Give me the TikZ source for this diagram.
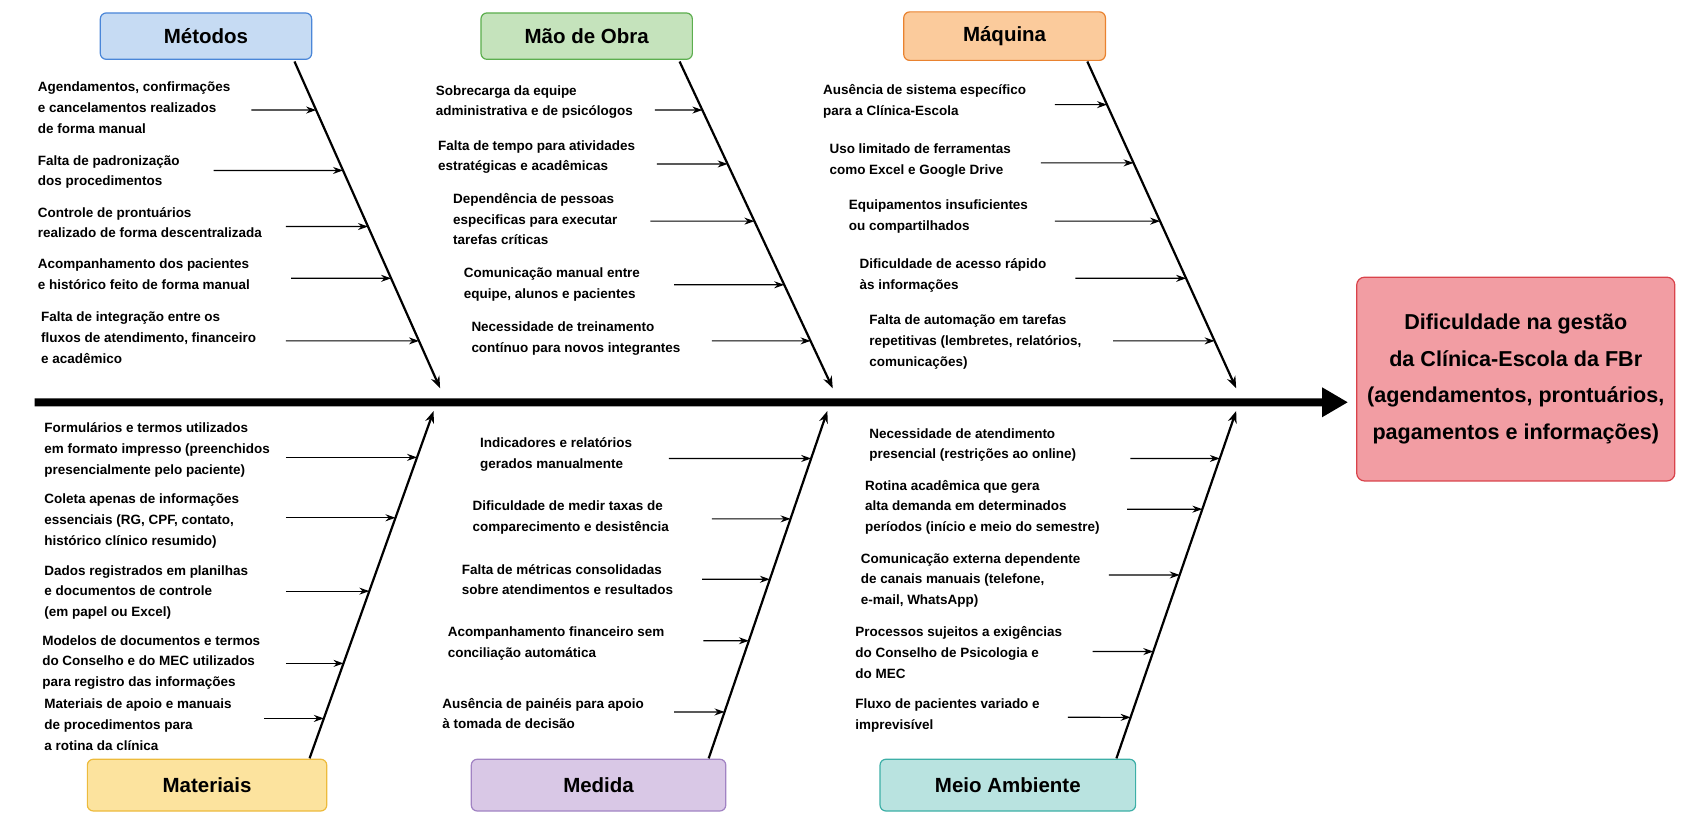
\documentclass[tikz,border=0pt]{standalone}
\usepackage{fontspec}
\setmainfont{Liberation Sans}
\usetikzlibrary{arrows.meta,calc}
\definecolor{bluF}{HTML}{C6DBF3}\definecolor{bluD}{HTML}{4A86D8}
\definecolor{grnF}{HTML}{C5E3BC}\definecolor{grnD}{HTML}{5CAE4E}
\definecolor{orgF}{HTML}{FBCB9C}\definecolor{orgD}{HTML}{E9822F}
\definecolor{yelF}{HTML}{FCE39E}\definecolor{yelD}{HTML}{EDBB3C}
\definecolor{purF}{HTML}{D9C8E6}\definecolor{purD}{HTML}{A183C3}
\definecolor{tealF}{HTML}{B9E3E0}\definecolor{tealD}{HTML}{3DAFA7}
\definecolor{redF}{HTML}{F29DA3}\definecolor{redD}{HTML}{D9434B}
\newcommand\itm[6]{\node[item] (#1) at (#2,#3-7) {#4};\coordinate (#1s) at (#5,#6);}
\newcommand\arr[2]{\draw[sub] (#1s) -- (intersection of #1s--{$(#1s)+(10,0)$} and #2);}
\begin{document}
\begin{tikzpicture}[x=1pt,y=-1pt,scale=1.0785,every node/.append style={transform shape},
 cat/.style={draw,rounded corners=6pt,line width=1.2pt,font=\fontsize{19}{22}\selectfont\bfseries},
 item/.style={anchor=north west,inner sep=0pt,align=left,font=\fontsize{12.5}{19.2}\selectfont\bfseries},
 bone/.style={line width=2.2pt},
 sub/.style={-{Stealth[length=10pt,width=7pt]},line width=1.2pt}]
\node[draw=redD,fill=redF,rounded corners=8pt,line width=1.2pt,minimum width=295pt,minimum height=189pt,align=center,font=\fontsize{20}{34}\selectfont\bfseries] (eff) at (1405.5,351.5) {Dificuldade na gestão\\da Clínica-Escola da FBr\\(agendamentos, prontuários,\\pagamentos e informações)};
\coordinate (s0) at (32,373);
\draw[line width=8pt,-{Triangle[length=26pt,width=28pt]}] (s0) -- (1250,373) coordinate (s1);
\node[cat,fill=bluF,draw=bluD,minimum width=196pt,minimum height=43pt] (met) at (191,33.5) {Métodos};
\node[cat,fill=grnF,draw=grnD,minimum width=196pt,minimum height=43pt] (mao) at (544,33.5) {Mão de Obra};
\node[cat,fill=orgF,draw=orgD,minimum width=187pt,minimum height=45pt] (maq) at (931.5,33.5) {Máquina};
\node[cat,fill=yelF,draw=yelD,minimum width=222pt,minimum height=48pt] (mat) at (192,728) {Materiais};
\node[cat,fill=purF,draw=purD,minimum width=236pt,minimum height=48pt] (med) at (555,728) {Medida};
\node[cat,fill=tealF,draw=tealD,minimum width=237pt,minimum height=48pt] (mei) at (934.5,728) {Meio Ambiente};
\coordinate (a1) at (273,57); \coordinate (a2) at (408,360);
\coordinate (b1) at (630,57); \coordinate (b2) at (772,360);
\coordinate (c1) at (1008,57); \coordinate (c2) at (1146,360);
\coordinate (d1) at (287,703); \coordinate (d2) at (402,381);
\coordinate (e1) at (657,703); \coordinate (e2) at (767,381);
\coordinate (f1) at (1035,703); \coordinate (f2) at (1146,381);
\foreach \p/\q in {a1/a2,b1/b2,c1/c2,d1/d2,e1/e2,f1/f2}{\draw[bone,-{Stealth[length=12pt,width=9pt]}] (\p) -- (\q);}
\itm{m1}{35}{83}{Agendamentos, confirmações\\e cancelamentos realizados\\de forma manual}{233}{102}
\itm{m2}{35}{151}{Falta de padronização\\dos procedimentos}{198}{158}
\itm{m3}{35}{199}{Controle de prontuários\\realizado de forma descentralizada}{265}{210}
\itm{m4}{35}{247}{Acompanhamento dos pacientes\\e histórico feito de forma manual}{270}{258}
\itm{m5}{38}{296}{Falta de integração entre os\\fluxos de atendimento, financeiro\\e acadêmico}{265}{316}
\itm{o1}{404}{86}{Sobrecarga da equipe\\administrativa e de psicólogos}{607}{102}
\itm{o2}{406}{137}{Falta de tempo para atividades\\estratégicas e acadêmicas}{609}{152}
\itm{o3}{420}{186}{Dependência de pessoas\\especificas para executar\\tarefas críticas}{603}{205}
\itm{o4}{430}{255}{Comunicação manual entre\\equipe, alunos e pacientes}{625}{264}
\itm{o5}{437}{305}{Necessidade de treinamento\\contínuo para novos integrantes}{660}{316}
\itm{q1}{763}{85}{Ausência de sistema específico\\para a Clínica-Escola}{978}{97}
\itm{q2}{769}{140}{Uso limitado de ferramentas\\ como Excel e Google Drive}{965}{151}
\itm{q3}{787}{192}{Equipamentos insuficientes\\ou compartilhados}{978}{205}
\itm{q4}{797}{247}{Dificuldade de acesso rápido\\às informações}{997}{258}
\itm{q5}{806}{299}{Falta de automação em tarefas\\repetitivas (lembretes, relatórios,\\comunicações)}{1032}{316}
\itm{t1}{41}{399}{Formulários e termos utilizados\\em formato impresso (preenchidos\\presencialmente pelo paciente)}{265}{424}
\itm{t2}{41}{465}{Coleta apenas de informações\\essenciais (RG, CPF, contato,\\histórico clínico resumido)}{265}{480}
\itm{t3}{41}{531}{Dados registrados em planilhas\\e documentos de controle\\(em papel ou Excel)}{265}{548}
\itm{t4}{39}{596}{Modelos de documentos e termos\\do Conselho e do MEC utilizados\\para registro das informações}{265}{615}
\itm{t5}{41}{655}{Materiais de apoio e manuais\\de procedimentos para\\a rotina da clínica}{245}{666}
\itm{e1t}{445}{413}{Indicadores e relatórios\\gerados manualmente}{620}{425}
\itm{e2t}{438}{471}{Dificuldade de medir taxas de\\comparecimento e desistência}{660}{481}
\itm{e3t}{428}{530}{Falta de métricas consolidadas\\sobre atendimentos e resultados}{651}{537}
\itm{e4t}{415}{588}{Acompanhamento financeiro sem\\conciliação automática}{652}{594}
\itm{e5t}{410}{654}{Ausência de painéis para apoio\\à tomada de decisão}{625}{660}
\itm{v1}{806}{404}{Necessidade de atendimento\\presencial (restrições ao online)}{1048}{425}
\itm{v2}{802}{452}{Rotina acadêmica que gera\\alta demanda em determinados\\períodos (início e meio do semestre)}{1045}{472}
\itm{v3}{798}{520}{Comunicação externa dependente\\de canais manuais (telefone,\\e-mail, WhatsApp)}{1028}{533}
\itm{v4}{793}{588}{Processos sujeitos a exigências\\do Conselho de Psicologia e\\do MEC}{1013}{604}
\itm{v5}{793}{655}{Fluxo de pacientes variado e\\imprevisível}{990}{665}
\foreach \n in {m1,m2,m3,m4,m5}{\arr{\n}{a1--a2}}
\foreach \n in {o1,o2,o3,o4,o5}{\arr{\n}{b1--b2}}
\foreach \n in {q1,q2,q3,q4,q5}{\arr{\n}{c1--c2}}
\foreach \n in {t1,t2,t3,t4,t5}{\arr{\n}{d1--d2}}
\foreach \n in {e1t,e2t,e3t,e4t,e5t}{\arr{\n}{e1--e2}}
\foreach \n in {v1,v2,v3,v4,v5}{\arr{\n}{f1--f2}}
\pgfresetboundingbox
\useasboundingbox (0,0) rectangle (1568,774);
\end{tikzpicture}
\end{document}
